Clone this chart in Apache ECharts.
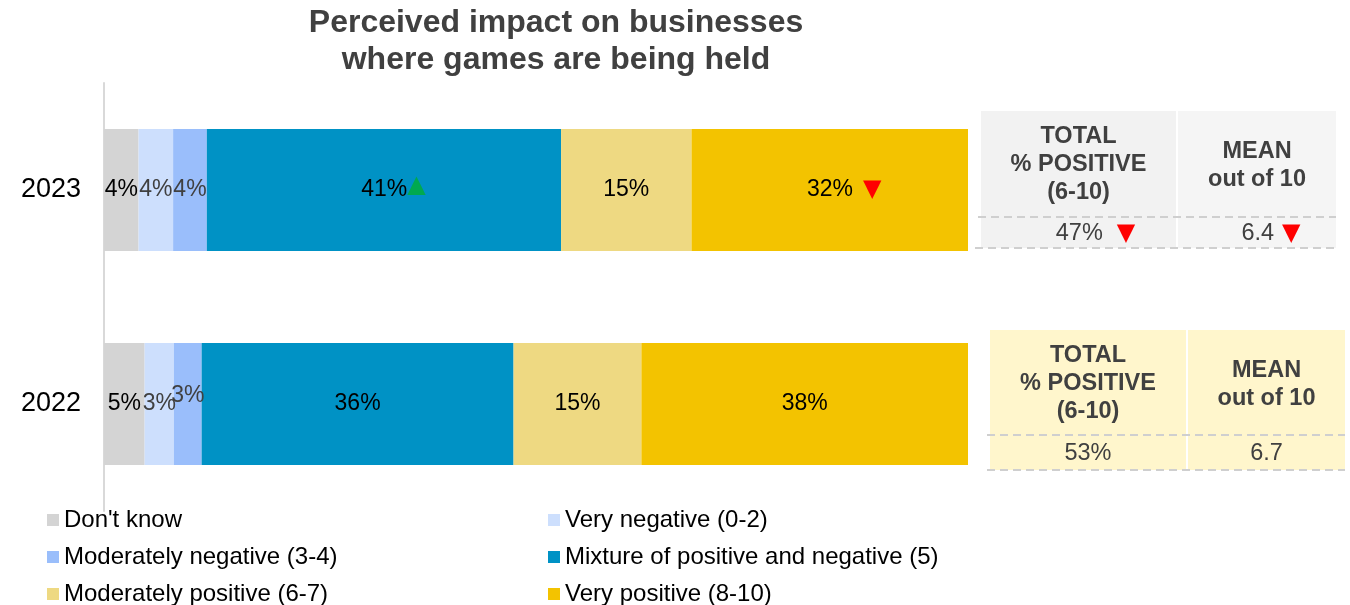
<!DOCTYPE html>
<html>
<head>
<meta charset="utf-8">
<script src="https://cdn.jsdelivr.net/npm/echarts@6/dist/echarts.min.js"></script>
<style>html,body{margin:0;padding:0;background:#fff}#c{width:1350px;height:605px}</style>
</head>
<body>
<div id="c"></div>
<script>
// ---- data ----
const years = ['2023', '2022'];
const seriesNames = ["Don't know", 'Very negative (0-2)', 'Moderately negative (3-4)', 'Mixture of positive and negative (5)', 'Moderately positive (6-7)', 'Very positive (8-10)'];
const dontKnow = [4.0, 4.7];
const veryNegative = [4.0, 3.4];
const moderatelyNegative = [3.9, 3.2];
const mixture = [41.0, 36.1];
const moderatelyPositive = [15.1, 14.8];
const veryPositive = [32.0, 37.8];
// significance markers per year (2023, 2022): 'up', 'down' or ''
const sigMixture = ['up', ''];
const sigVeryPositive = ['down', ''];
const totalPositive = ['47%', '53%'];
const meanScore = ['6.4', '6.7'];
const sigTotalPositive = ['down', ''];
const sigMean = ['down', ''];

const colors = ['#d4d4d4', '#cddffd', '#9abefb', '#0092c5', '#eed982', '#f3c300'];
const values = [dontKnow, veryNegative, moderatelyNegative, mixture, moderatelyPositive, veryPositive];
const sigs = [null, null, null, sigMixture, null, sigVeryPositive];
const labelColors = ['#000', '#404040', '#404040', '#000', '#000', '#000'];

const FONT = 'Liberation Sans, Arial, sans-serif';

const series = values.map((vals, si) => ({
  name: seriesNames[si],
  type: 'bar',
  stack: 'total',
  barWidth: 122,
  itemStyle: { color: colors[si] },
  data: vals.map((v, di) => (si === 2 && di === 1) ? { value: v, label: { offset: [0, -8] } } : v),
  label: {
    show: true,
    position: 'inside',
    color: labelColors[si],
    fontSize: 23,
    fontFamily: FONT,
    formatter: p => {
      const s = sigs[si] ? sigs[si][p.dataIndex] : '';
      const t = Math.round(p.value) + '%';
      if (s === 'up') return '{padU|}{v|' + t + '}{up|▲}';
      if (s === 'down') return '{padD|}{v|' + t + '}{dn|▼}';
      return '{v|' + t + '}';
    },
    rich: {
      v: { fontSize: 23, fontFamily: FONT, color: labelColors[si] },
      padU: { width: 19 },
      padD: { width: 29 },
      up: { fontSize: 24, fontFamily: 'DejaVu Sans', color: '#00a94f', padding: [0, 0, 8, 0] },
      dn: { fontSize: 24, fontFamily: 'DejaVu Sans', color: '#ff0000', padding: [0, 0, 0, 10] }
    }
  }
}));

// ---- side tables (annotation) ----
function table(x0, y0, wL, wR, gap, hHead, hVal, fillL, fillR, idx, dashX0, dashX0b) {
  const els = [];
  const h = hHead + hVal;
  const xR = x0 + wL + gap;
  const xEnd = xR + wR;
  els.push({ type: 'rect', shape: { x: x0, y: y0, width: wL, height: h }, style: { fill: fillL }, silent: true });
  els.push({ type: 'rect', shape: { x: xR, y: y0, width: wR, height: h }, style: { fill: fillR }, silent: true });
  const dash = { stroke: '#cfcfcf', lineWidth: 2, lineDash: [8, 5] };
  els.push({ type: 'line', shape: { x1: dashX0, y1: y0 + hHead, x2: xEnd, y2: y0 + hHead }, style: dash, silent: true });
  els.push({ type: 'line', shape: { x1: dashX0b, y1: y0 + h, x2: xEnd, y2: y0 + h }, style: dash, silent: true });
  const cL = x0 + wL / 2, cR = xR + wR / 2;
  const head = { align: 'center', verticalAlign: 'middle', fontSize: 23.5, fontWeight: 'bold', fontFamily: FONT, fill: '#404040', lineHeight: 28 };
  els.push({ type: 'text', x: cL, y: y0 + hHead / 2 + 1, style: Object.assign({ text: 'TOTAL\n% POSITIVE\n(6-10)' }, head), silent: true });
  els.push({ type: 'text', x: cR, y: y0 + hHead / 2 + 2, style: Object.assign({ text: 'MEAN\nout of 10' }, head), silent: true });
  const rich = {
    v: { fontSize: 23.5, fontFamily: FONT, fill: '#404040' },
    p1: { width: 34 }, p2: { width: 28 },
    d1: { fontSize: 24, fontFamily: 'DejaVu Sans', fill: '#ff0000', padding: [0, 0, 0, 14] },
    d2: { fontSize: 24, fontFamily: 'DejaVu Sans', fill: '#ff0000', padding: [0, 0, 0, 8] }
  };
  const tp = sigTotalPositive[idx] === 'down' ? '{p1|}{v|' + totalPositive[idx] + '}{d1|▼}' : '{v|' + totalPositive[idx] + '}';
  const mn = sigMean[idx] === 'down' ? '{p2|}{v|' + meanScore[idx] + '}{d2|▼}' : '{v|' + meanScore[idx] + '}';
  els.push({ type: 'text', x: cL, y: y0 + hHead + hVal / 2 + 1, style: { text: tp, rich: rich, align: 'center', verticalAlign: 'middle' }, silent: true });
  els.push({ type: 'text', x: cR, y: y0 + hHead + hVal / 2 + 1, style: { text: mn, rich: rich, align: 'center', verticalAlign: 'middle' }, silent: true });
  return els;
}

const graphics = []
  .concat(table(981, 111, 195, 158, 2, 106, 31, '#f2f2f2', '#f5f5f5', 0, 978, 975))
  .concat(table(990, 330, 196, 157, 2, 105, 35, '#fff6cc', '#fff6cc', 1, 987, 987));

// legend: two columns, three rows
const legendCols = [47, 548];
const legendRows = [508, 545, 582];
const legends = seriesNames.map((n, i) => ({
  data: [n],
  left: legendCols[i % 2],
  top: legendRows[Math.floor(i / 2)],
  padding: 0,
  icon: 'rect', itemWidth: 12, itemHeight: 12,
  textStyle: { fontSize: 24, fontFamily: FONT, color: '#000', lineHeight: 24 },
  selectedMode: false
}));

const chart = echarts.init(document.getElementById('c'), null, { renderer: 'canvas' });
chart.setOption({
  animation: false,
  backgroundColor: '#fff',
  title: {
    text: 'Perceived impact on businesses\nwhere games are being held',
    left: 551,
    textAlign: 'center',
    top: 0,
    textStyle: { fontSize: 32, fontWeight: 'bold', fontFamily: FONT, color: '#404040', lineHeight: 37 }
  },
  grid: { left: 104, right: 382, top: 83, bottom: 94 },
  xAxis: { type: 'value', min: 0, max: 100, show: false },
  yAxis: {
    type: 'category',
    data: years,
    inverse: true,
    axisLine: { show: true, lineStyle: { color: '#d9d9d9', width: 2 } },
    axisTick: { show: false },
    axisLabel: { margin: 23, fontSize: 27, fontFamily: FONT, color: '#000' }
  },
  legend: legends,
  series: series,
  graphic: graphics
});
</script>
</body>
</html>
